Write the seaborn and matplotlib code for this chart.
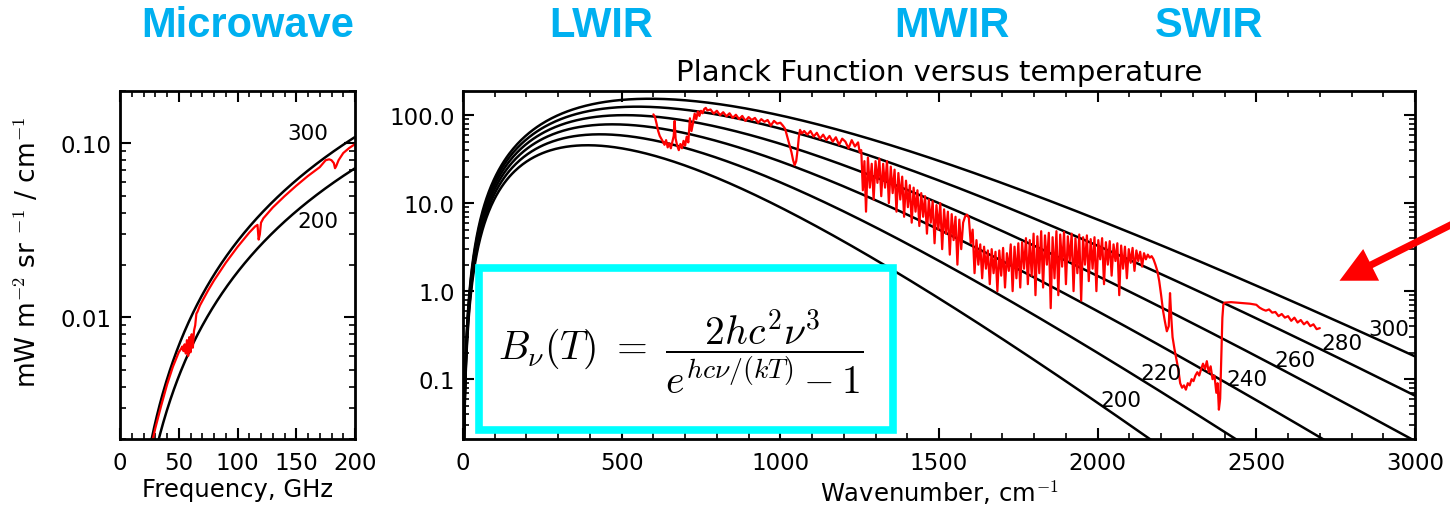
import matplotlib
matplotlib.use("Agg")
import matplotlib.pyplot as plt
from matplotlib.patches import Rectangle, FancyArrowPatch
from matplotlib.ticker import FixedLocator, FixedFormatter, LogLocator, MultipleLocator, NullFormatter
import numpy as np
import pandas as pd
import seaborn as sns

# Planck curve temperatures (K)
TEMPS_IR = [200, 220, 240, 260, 280, 300]
TEMPS_MW = [200, 300]

# labels placed next to the curves (x, y in data units)
IR_LABELS = {300: (2918, 0.368), 280: (2770, 0.255), 260: (2622, 0.163),
             240: (2470, 0.101), 220: (2199, 0.116), 200: (2073, 0.058)}
MW_LABELS = {300: (160, 0.114), 200: (168, 0.0356)}

# measured microwave spectrum, GHz / mW m-2 sr-1 (cm-1)-1
MW_GHZ = [28, 30, 35, 40, 45, 50,
          52, 53, 54, 55, 56, 57, 58, 59, 60, 61, 62, 63, 64, 65, 66,
          68, 70, 75, 80, 90, 100, 110, 115, 117, 118, 119, 120, 122,
          130, 140, 150, 160, 170, 175, 178, 180, 182, 183, 184, 186, 190, 195, 200]
MW_RAD = [0.0020, 0.0023, 0.0031, 0.0041, 0.0052, 0.0063,
          0.0066, 0.0068, 0.0064, 0.0070, 0.0062, 0.0074, 0.0060, 0.0077, 0.0063, 0.0080,
          0.0067, 0.0084, 0.0090, 0.0105, 0.0108,
          0.0117, 0.0124, 0.0143, 0.0163, 0.0206, 0.0254, 0.0307, 0.0333, 0.0340, 0.0280,
          0.0300, 0.0350, 0.0371,
          0.0428, 0.0497, 0.0571, 0.065, 0.073, 0.080, 0.081, 0.080, 0.077, 0.072, 0.074,
          0.080, 0.088, 0.094, 0.099]

# measured infrared spectrum, split by band (cm-1 / mW m-2 sr-1 (cm-1)-1)
CO2_15_WN = [600, 605, 610, 615, 620, 625, 630, 635, 640, 645,
             650, 655, 660, 664, 667, 670, 675, 680, 685, 690,
             695, 700, 705, 710, 715, 720, 725, 730, 735, 740,
             745, 750, 755, 760, 765, 770]
CO2_15_RAD = [102, 95, 80, 66, 58, 54, 50, 46, 52, 43,
              48, 42, 50, 58, 86, 54, 45, 40, 47, 42,
              51, 45, 57, 49, 92, 66, 82, 104, 90, 110,
              98, 112, 105, 117, 121, 113]

WINDOW_WN = [780, 790, 800, 810, 820, 830, 840, 850, 860, 870,
             880, 890, 900, 910, 920, 930, 940, 950, 960, 970,
             980, 990, 1000]
WINDOW_RAD = [116, 104, 112, 100, 108, 97, 105, 93, 101, 90,
              98, 86, 95, 88, 93, 82, 90, 84, 88, 76,
              86, 80, 82]

O3_WN = [1008, 1015, 1020, 1025, 1030, 1035, 1040, 1045, 1050, 1055,
         1058, 1062, 1068, 1075,
         1085, 1095, 1105, 1115, 1125, 1135, 1145, 1155, 1165, 1175,
         1185, 1195, 1205, 1215, 1225, 1235, 1245, 1250]
O3_RAD = [76, 70, 60, 52, 44, 38, 31, 27, 30, 42,
          55, 68, 62, 66,
          60, 66, 57, 63, 54, 60, 52, 58, 50, 56,
          46, 54, 50, 42, 52, 44, 49, 38]

H2O_WN = [1255, 1260, 1265, 1270, 1276, 1282, 1288, 1294, 1300, 1306,
          1312, 1318, 1324, 1330, 1336, 1342, 1348, 1354, 1360, 1366,
          1372, 1378, 1384, 1390, 1396, 1402, 1408, 1414, 1420, 1426,
          1432, 1438, 1444, 1450, 1456, 1462, 1468, 1474, 1480, 1486,
          1492, 1498, 1504, 1510, 1516, 1522, 1528, 1534, 1540, 1546,
          1552, 1558, 1564, 1570, 1576, 1582, 1588, 1594, 1600, 1606,
          1612, 1618, 1624, 1630, 1636, 1642, 1648, 1654, 1660, 1666,
          1672, 1678, 1684, 1690, 1696, 1702, 1708, 1714, 1720, 1726,
          1732, 1738, 1744, 1750, 1756, 1762, 1768, 1774, 1780, 1786,
          1792, 1798, 1804, 1810, 1816, 1822, 1828, 1834, 1840, 1846,
          1852, 1858, 1864, 1870, 1876, 1882, 1888, 1894, 1900, 1906,
          1912, 1918, 1924, 1930, 1936, 1942, 1948, 1954, 1960, 1966,
          1972, 1978, 1984, 1990, 1996, 2002, 2008, 2014, 2020, 2026,
          2032, 2038, 2044, 2050, 2056, 2062, 2068, 2074, 2080, 2086,
          2092, 2098, 2104, 2110, 2116, 2122, 2128, 2134, 2140, 2146,
          2152, 2158, 2164, 2170, 2176, 2182]
H2O_RAD = [40, 14, 30, 8, 33, 15, 28, 11, 30, 17,
           32, 12, 28, 15, 30, 10, 26, 13, 24, 8,
           22, 11, 20, 7, 18, 9, 16, 6, 15, 8,
           14, 5.5, 13, 7, 12, 4.5, 11, 6, 10.5, 3.5,
           9.5, 5, 10, 3, 8.5, 4.5, 8, 2.6, 7.5, 3.8,
           7, 2, 6.5, 3, 6, 7, 7.4, 6.8, 3.5, 5,
           1.6, 3.8, 2, 3.4, 1.4, 3.2, 1.8, 2.9, 1.2, 3,
           1.6, 2.8, 1.0, 2.9, 1.5, 3.1, 1.1, 2.7, 1.7, 3.4,
           1.0, 3.2, 1.4, 3.5, 1.1, 3.6, 1.8, 4.0, 1.2, 3.8,
           1.5, 4.5, 0.9, 4.2, 1.6, 4.8, 1.1, 4.3, 2.0, 4.6,
           0.64, 4.1, 1.4, 4.8, 0.9, 4.4, 1.9, 4.7, 1.2, 4.2,
           2.2, 4.5, 1.0, 4.0, 1.6, 4.4, 0.78, 4.1, 2.0, 4.3,
           1.3, 3.9, 1.8, 4.1, 1.0, 3.8, 2.3, 4.0, 1.2, 3.6,
           2.0, 3.7, 1.5, 3.4, 2.2, 3.5, 0.9, 3.3, 1.8, 3.2,
           1.4, 3.0, 2.1, 3.1, 1.7, 2.9, 2.2, 2.8, 1.9, 2.7,
           2.3, 2.6, 2.4, 2.5, 2.3, 2.0]

CO2_43_WN = [2188, 2194, 2200, 2206, 2212, 2218, 2224, 2228, 2232, 2236,
             2242, 2248, 2254, 2260, 2266, 2272, 2278, 2284, 2290, 2296,
             2302, 2308, 2314, 2320, 2326, 2332, 2338, 2344, 2350, 2356,
             2362, 2368, 2374, 2378, 2382, 2386, 2390, 2393, 2396]
CO2_43_RAD = [1.7, 1.3, 0.9, 0.6, 0.45, 0.35, 0.4, 0.95, 0.5, 0.3,
              0.22, 0.17, 0.13, 0.09, 0.08, 0.085, 0.076, 0.09, 0.085, 0.1,
              0.095, 0.11, 0.12, 0.11, 0.13, 0.15, 0.13, 0.16, 0.12, 0.14,
              0.1, 0.11, 0.07, 0.09, 0.045, 0.06, 0.2, 0.5, 0.7]

SW_WN = [2400, 2420, 2440, 2460, 2480, 2500, 2510, 2520, 2530, 2540,
         2550, 2560, 2570, 2580, 2590, 2600, 2610, 2620, 2630, 2640,
         2650, 2660, 2670, 2680, 2690, 2700]
SW_RAD = [0.74, 0.75, 0.74, 0.73, 0.72, 0.7, 0.65, 0.62, 0.6, 0.62,
          0.57, 0.58, 0.52, 0.55, 0.5, 0.52, 0.46, 0.5, 0.44, 0.47,
          0.42, 0.45, 0.4, 0.42, 0.37, 0.38]

BAND_NAMES = ["Microwave", "LWIR", "MWIR", "SWIR"]

# radiation constants for radiance in mW m-2 sr-1 (cm-1)-1
C1 = 1.191042e-5
C2 = 1.4387752
GHZ_PER_WN = 29.9792458

BLUE = "#00B0F0"

sns.set_style("ticks")
plt.rcParams.update({
    "font.family": ["DejaVu Sans"],
    "mathtext.fontset": "cm",
    "text.color": "black",
    "axes.labelcolor": "black",
    "axes.edgecolor": "black",
    "xtick.color": "black",
    "ytick.color": "black",
    "axes.linewidth": 2.0,
    "xtick.direction": "in",
    "ytick.direction": "in",
    "xtick.top": True,
    "ytick.right": True,
    "xtick.major.size": 8,
    "xtick.minor.size": 4,
    "ytick.major.size": 8,
    "ytick.minor.size": 4,
    "xtick.major.width": 1.5,
    "xtick.minor.width": 1.2,
    "ytick.major.width": 1.5,
    "ytick.minor.width": 1.2,
    "xtick.labelsize": 16.5,
    "ytick.labelsize": 16.5,
})


def planck(wn, temp):
    return C1 * wn ** 3 / np.expm1(C2 * wn / temp)


def planck_frame(wn, temps, xvals):
    return pd.concat(
        [pd.DataFrame({"x": xvals, "rad": planck(wn, t), "temp": t}) for t in temps],
        ignore_index=True,
    )


def style_log_axis(ax, majors, labels):
    ax.yaxis.set_major_locator(FixedLocator(majors))
    ax.yaxis.set_major_formatter(FixedFormatter(labels))
    ax.yaxis.set_minor_locator(LogLocator(base=10, subs=np.arange(2, 10)))
    ax.yaxis.set_minor_formatter(NullFormatter())
    ax.tick_params(which="both", top=True, right=True)
    ax.tick_params(axis="y", pad=6)
    ax.tick_params(axis="x", pad=9)
    for sp in ax.spines.values():
        sp.set_visible(True)


W, H = 1450, 510
fig = plt.figure(figsize=(W / 100, H / 100), dpi=100)
ax_mw = fig.add_axes([120 / W, 70 / H, 235 / W, 348 / H])
ax_ir = fig.add_axes([463 / W, 70 / H, 952 / W, 348 / H])

# microwave panel
ghz = np.linspace(20, 200, 300)
mw_curves = planck_frame(ghz / GHZ_PER_WN, TEMPS_MW, ghz)
sns.lineplot(data=mw_curves, x="x", y="rad", units="temp", estimator=None,
             color="black", lw=1.8, legend=False, ax=ax_mw)
sns.lineplot(x=MW_GHZ, y=MW_RAD, color="red", lw=1.6, sort=False,
             estimator=None, ax=ax_mw)
ax_mw.set_yscale("log")
ax_mw.set_xlim(0, 200)
ax_mw.set_ylim(0.002, 0.2)
ax_mw.xaxis.set_major_locator(MultipleLocator(50))
ax_mw.xaxis.set_minor_locator(MultipleLocator(10))
style_log_axis(ax_mw, [0.01, 0.1], ["0.01", "0.10"])
ax_mw.set_xlabel("Frequency, GHz", fontsize=17.5, labelpad=2)
ax_mw.set_ylabel("")
for t, (x, y) in MW_LABELS.items():
    ax_mw.text(x, y, str(t), fontsize=15.5, ha="center", va="center")

# infrared panel
wn = np.concatenate([np.geomspace(1, 100, 200), np.linspace(100.5, 3000, 700)])
ir_curves = planck_frame(wn, TEMPS_IR, wn)
sns.lineplot(data=ir_curves, x="x", y="rad", units="temp", estimator=None,
             color="black", lw=1.8, legend=False, ax=ax_ir)
spec_wn = CO2_15_WN + WINDOW_WN + O3_WN + H2O_WN + CO2_43_WN + SW_WN
spec_rad = CO2_15_RAD + WINDOW_RAD + O3_RAD + H2O_RAD + CO2_43_RAD + SW_RAD
sns.lineplot(x=spec_wn, y=spec_rad, color="red", lw=1.6, sort=False,
             estimator=None, ax=ax_ir)
ax_ir.set_yscale("log")
ax_ir.set_xlim(0, 3000)
ax_ir.set_ylim(0.0209, 188)
ax_ir.xaxis.set_major_locator(MultipleLocator(500))
ax_ir.xaxis.set_minor_locator(MultipleLocator(100))
style_log_axis(ax_ir, [0.1, 1, 10, 100], ["0.1", "1.0", "10.0", "100.0"])
ax_ir.set_xlabel("Wavenumber, cm$^{-1}$", fontsize=17.5, labelpad=2)
ax_ir.set_ylabel("")
ax_ir.set_title("Planck Function versus temperature", fontsize=21, pad=8)
for t, (x, y) in IR_LABELS.items():
    ax_ir.text(x, y, str(t), fontsize=15.5, ha="center", va="center")

# shared y label, written at figure level like the original
fig.text(28 / W, 1 - 252 / H, "mW m$^{-2}$ sr $^{-1}$ / cm$^{-1}$", rotation=90,
         fontsize=19, ha="center", va="center")

# band names across the top
for name, xc in zip(BAND_NAMES, [248, 601, 952, 1209]):
    fig.text(xc / W, 1 - 26 / H, name, color=BLUE, fontsize=30, fontweight="bold",
             family=["Liberation Sans", "DejaVu Sans"], ha="center", va="center")

# formula box
box = Rectangle((479 / W, 1 - 431 / H), (893 - 479) / W, (431 - 269) / H,
                transform=fig.transFigure, facecolor="white", edgecolor="#00FFFF",
                lw=5.5, zorder=5)
fig.add_artist(box)
fig.text(681 / W, 1 - 352 / H,
         r"$B_\nu(T)\ =\ \dfrac{2hc^2\nu^3}{e^{hc\nu/(kT)}-1}$",
         fontsize=28.5, ha="center", va="center", zorder=6)

# red arrow from the right edge
arrow = FancyArrowPatch((1.01, 1 - 219 / H), (1337 / W, 1 - 283 / H),
                        transform=fig.transFigure,
                        arrowstyle="simple,head_length=1.5,head_width=1.5,tail_width=0.3",
                        mutation_scale=17, color="red", lw=0, zorder=6)
fig.add_artist(arrow)

fig.savefig("out.png", dpi=100)
